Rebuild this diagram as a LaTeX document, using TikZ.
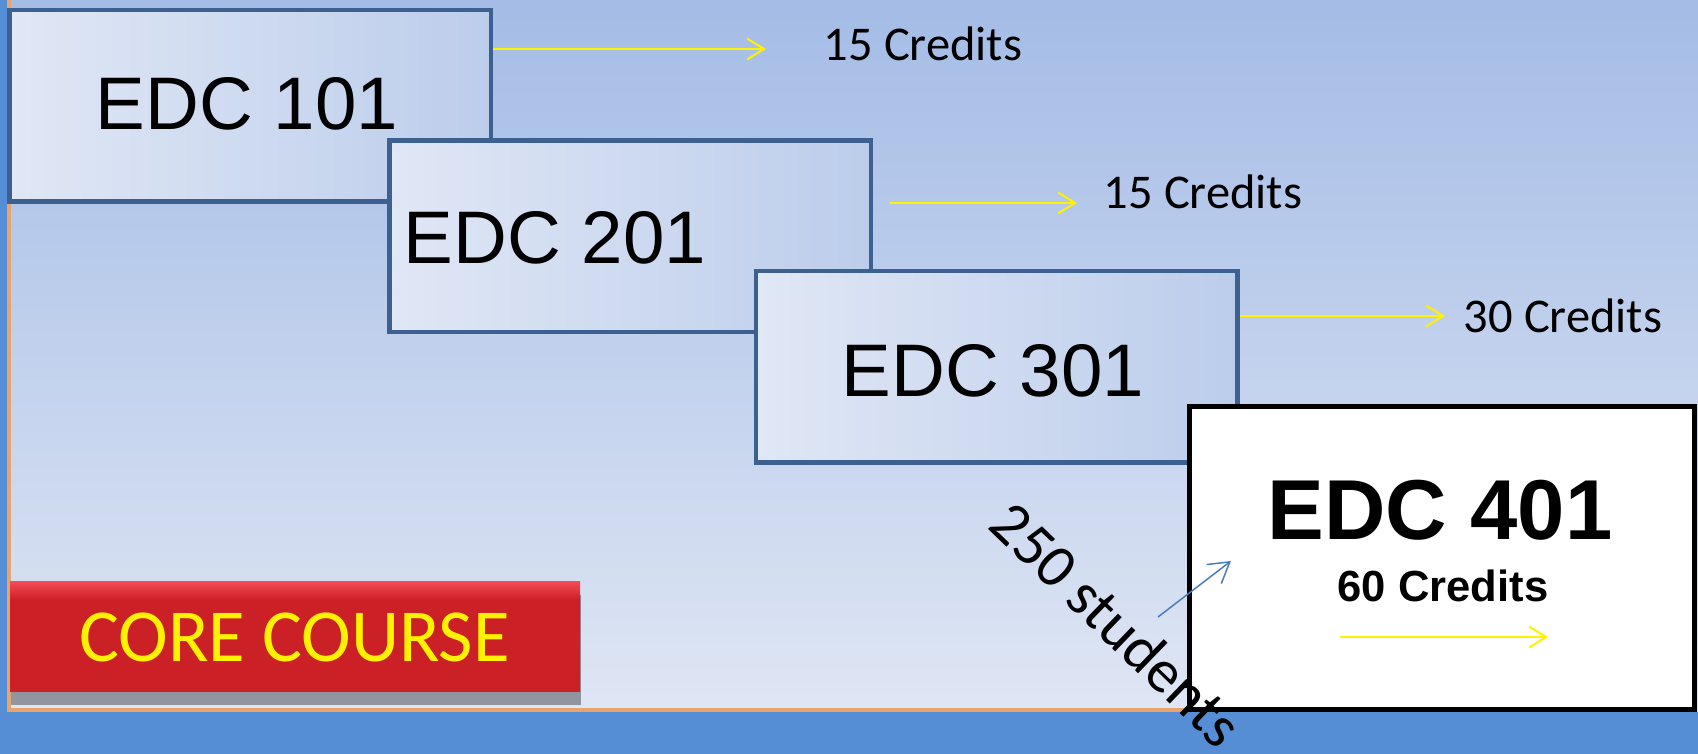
\documentclass[tikz,border=0pt]{standalone}
\usepackage{fontspec}
\setmainfont{Liberation Sans}
\newfontfamily\calibri{Carlito}
\usetikzlibrary{arrows.meta,shadows}

\definecolor{bgtop}{HTML}{A4BCE6}
\definecolor{bgbot}{HTML}{DFE6F4}
\definecolor{bandblue}{HTML}{558ED5}
\definecolor{rimorange}{HTML}{E9A46E}
\definecolor{boxblue}{HTML}{3C6190}
\definecolor{boxleft}{HTML}{E0E7F5}
\definecolor{boxright}{HTML}{BCCDEB}
\definecolor{corered}{HTML}{CC2027}
\definecolor{corelight}{HTML}{F24A55}
\definecolor{pointblue}{HTML}{4A7EBB}
\pgfdeclareverticalshading{corefade}{100bp}{color(0bp)=(corered); color(25bp)=(corered); color(67bp)=(corered); color(75bp)=(corelight); color(100bp)=(corelight)}

\begin{document}
\begin{tikzpicture}[x=0.1mm,y=-0.1mm,
    edcbox/.style={draw=boxblue,line width=0.45mm,left color=boxleft,right color=boxright,
        minimum width=48.15mm,minimum height=19.15mm,inner sep=0pt},
    edctext/.style={inner sep=0pt,font=\fontsize{21.2}{24}\selectfont},
    credit/.style={inner sep=0pt,font=\calibri\fontsize{13.8}{16}\selectfont},
    yarrow/.style={draw=yellow,line width=0.2mm,-{Straight Barb[length=1.7mm,width=2.1mm]}}]
    \useasboundingbox (0,0) rectangle (1698,754);
    \coordinate (A1) at (766,49);
    \coordinate (A2s) at (890,203);
    \coordinate (A2) at (1077,203);
    \coordinate (A3) at (1445,316);
    \coordinate (A4s) at (1340,637);
    \coordinate (A4) at (1548,637);
    \coordinate (P1) at (1158,617);
    \coordinate (P2) at (1231,561);

    \shade[top color=bgtop,bottom color=bgbot] (0,0) rectangle (1698,712); % slide
    \fill[bandblue] (0,0) rectangle (7,713);
    \fill[bandblue] (0,712) rectangle (1698,754);
    \draw[rimorange,line width=0.4mm] (9,0) -- (9,710) -- (1190,710);

    \node[edcbox] (b101) at (250,106) {};
    \node[edctext] (t101) at (247,104) {EDC 101};
    \node[edcbox] (b201) at (630,236.5) {};
    \node[edctext] (t201) at (555,238) {EDC 201};
    \node[edcbox] (b301) at (996.5,367) {};
    \node[edctext] (t301) at (993,371) {EDC 301};
    \node[draw=black,fill=white,line width=0.5mm,minimum width=50.5mm,minimum height=30.3mm] (b401) at (1442,558) {};
    \node[inner sep=0pt,font=\bfseries\fontsize{24.2}{28}\selectfont] (t401) at (1440,510) {EDC 401};
    \node[inner sep=0pt,font=\bfseries\fontsize{12.4}{14}\selectfont] (c4) at (1443,586) {60 Credits};

    \draw[yarrow] (b101.east |- A1) -- (A1);
    \node[credit] (c1) at (923,44) {15 Credits};
    \draw[yarrow] (A2s) -- (A2);
    \node[credit] (c2) at (1203,192) {15 Credits};
    \draw[yarrow] (b301.east |- A3) -- (A3);
    \node[credit] (c3) at (1563,316) {30 Credits};
    \draw[yarrow] (A4s) -- (A4);

    \node[shading=corefade,minimum width=57mm,minimum height=11mm,inner sep=0pt,
        drop shadow={shadow xshift=0.1mm,shadow yshift=-1.3mm,fill=black,opacity=0.35}] (core) at (295,637) {};
    \node[inner sep=0pt,text=yellow,font=\calibri\fontsize{21.3}{24}\selectfont] (tcore) at (294.5,637.5) {CORE COURSE};

    \draw[pointblue,line width=0.15mm,-{Straight Barb[length=2mm,width=2.4mm]}] (P1) -- (P2);
    \node[inner sep=0pt,rotate=-44,font=\calibri\fontsize{17.4}{20}\selectfont] (stud) at (1117,624) {250 students};
\end{tikzpicture}
\end{document}
